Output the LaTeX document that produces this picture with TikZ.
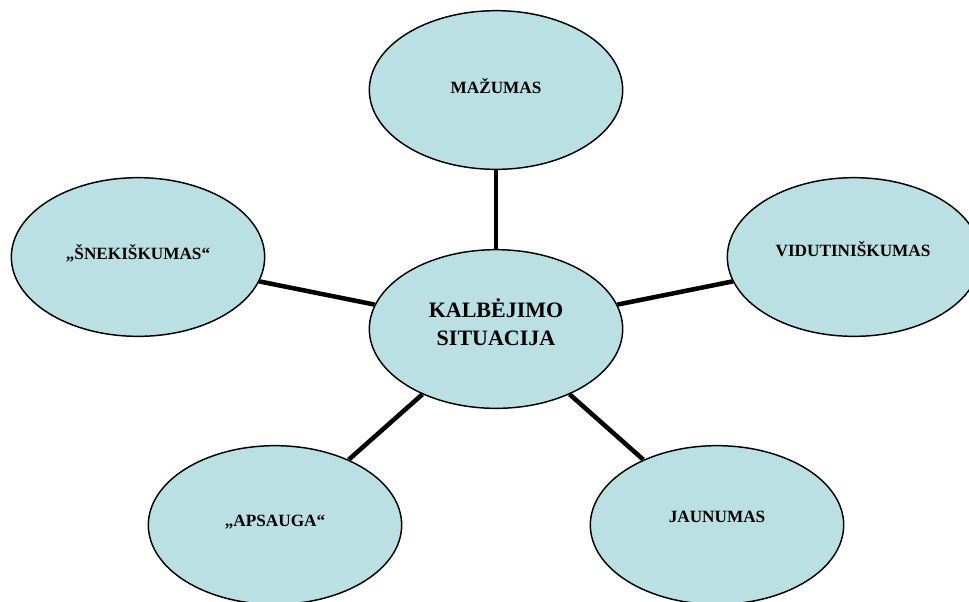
\documentclass[tikz,border=0pt]{standalone}
\usepackage{fontspec}
\setmainfont{Liberation Serif}
\usetikzlibrary{shapes.geometric}
\definecolor{bubble}{HTML}{BBE0E3}
\tikzset{
  bub/.style={ellipse, draw=black, line width=1.1pt, fill=bubble, minimum width=190pt, minimum height=119pt, inner sep=0pt},
  lbl/.style={font=\bfseries\fontsize{12.9}{14}\selectfont},
  spoke/.style={line width=3.4pt, black}
}
\begin{document}
\begin{tikzpicture}[x=0.75pt,y=-0.75pt]
\useasboundingbox (0,0) rectangle (969,601);
\node[bub] (c) at (496,329) {};
\node[font=\bfseries\fontsize{16.5}{21}\selectfont, align=center] (ct) at (496,322) {KALBĖJIMO\\SITUACIJA};
\node[bub] (m) at (496,90) {};
\node[bub] (v) at (854,257) {};
\node[bub] (s) at (138,257) {};
\node[bub] (a) at (275,525) {};
\node[bub] (j) at (717,525) {};
\node[lbl] (mt) at (496,86) {MAŽUMAS};
\node[lbl] (vt) at (853,249) {VIDUTINIŠKUMAS};
\node[lbl] (st) at (138,253) {„ŠNEKIŠKUMAS“};
\node[lbl] (at) at (275,522) {„APSAUGA“};
\node[lbl] (jt) at (717,517) {JAUNUMAS};
\draw[spoke] (c) -- (m);
\draw[spoke] (c) -- (v);
\draw[spoke] (c) -- (s);
\draw[spoke] (c) -- (a);
\draw[spoke] (c) -- (j);
\end{tikzpicture}
\end{document}
